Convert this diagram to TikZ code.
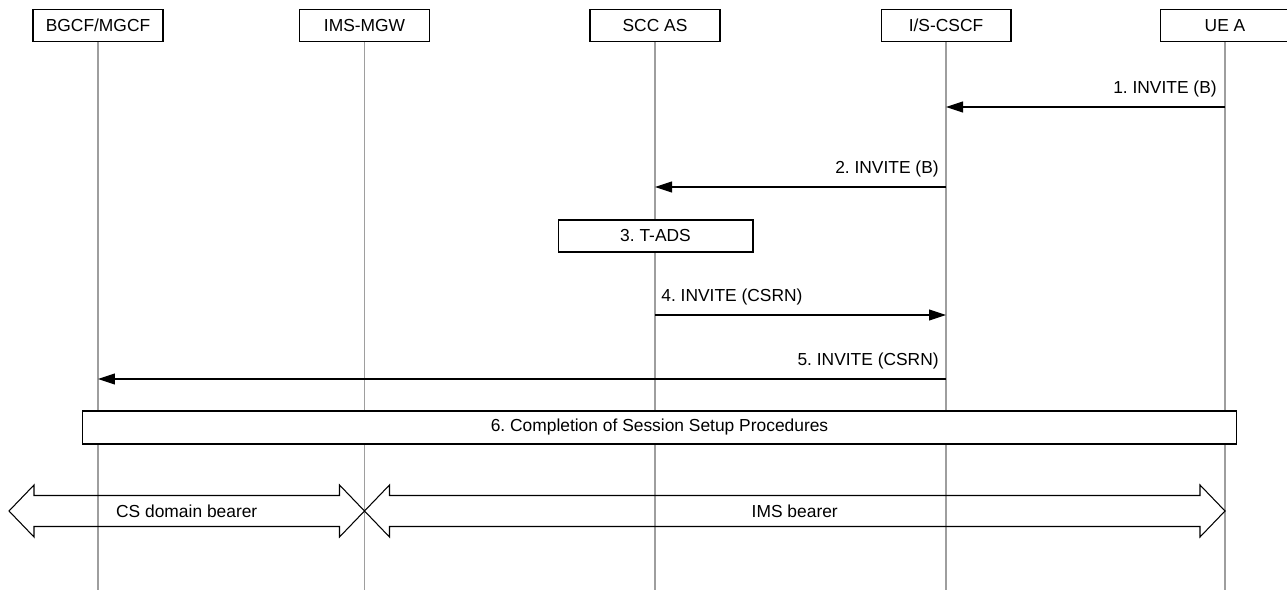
\documentclass[tikz,border=0pt]{standalone}
\usepackage{fontspec}
\setmainfont{Liberation Sans}
\usetikzlibrary{calc}
\usetikzlibrary{arrows.meta}
\frenchspacing

\begin{document}
\begin{tikzpicture}[x=0.02cm,y=-0.02cm,
  entity/.style={draw,fill=white,line width=0.6pt,minimum width=2.6cm,minimum height=0.64cm,inner sep=0pt,font=\fontsize{9.9}{12}\selectfont},
  actbox/.style={draw,fill=white,line width=0.6pt,minimum height=0.64cm,inner sep=0pt,font=\fontsize{9.9}{12}\selectfont},
  lifeline/.style={draw=black!38,line width=0.6pt},
  msg/.style={line width=0.6pt,-{Triangle[length=0.34cm,width=0.22cm]}},
  msglabel/.style={inner sep=0pt,font=\fontsize{9.9}{12}\selectfont},
  bearer/.style={line width=0.6pt,line join=miter}]

%\draw[help lines,step=50] (0,0) grid (1287,590);
\useasboundingbox (0,0) rectangle (1287,590);

% Set vertical positions of messages
\def\yone{107} %<- 1. INVITE
\def\ytwo{187} %<- 2. INVITE
\def\yfour{315} %<- 4. INVITE
\def\yfive{379} %<- 5. INVITE
\def\ybearer{511} %<- bearers

% Header boxes
\node[entity] (bgcf) at (98,25.5) {BGCF/MGCF};
\node[entity] (mgw) at (364.5,25.5) {IMS-MGW};
\node[entity] (sccas) at (655,25.5) {SCC AS};
\node[entity] (cscf) at (946,25.5) {I/S-CSCF};
\node[entity] (uea) at (1225,25.5) {UE A};

% Lifelines
\coordinate (bottom) at (0,590);
\draw[lifeline] (bgcf) -- (bgcf |- bottom);
\draw[lifeline] (mgw) -- (mgw |- bottom);
\draw[lifeline] (sccas) -- (sccas |- bottom);
\draw[lifeline] (cscf) -- (cscf |- bottom);
\draw[lifeline] (uea) -- (uea |- bottom);

% 1. INVITE (B)
\coordinate (m1) at (0,\yone);
\draw[msg] (uea |- m1) -- (cscf |- m1);
\node[msglabel,anchor=base east] (l1) at ($(uea |- m1)+(-8,-13)$) {1. INVITE (B)};

% 2. INVITE (B)
\coordinate (m2) at (0,\ytwo);
\draw[msg] (cscf |- m2) -- (sccas |- m2);
\node[msglabel,anchor=base east] (l2) at ($(cscf |- m2)+(-7,-13)$) {2. INVITE (B)};

% 3. T-ADS
\node[actbox,minimum width=3.9cm] (tads) at (655.5,236) {3. T-ADS};

% 4. INVITE (CSRN)
\coordinate (m4) at (0,\yfour);
\draw[msg] (sccas |- m4) -- (cscf |- m4);
\node[msglabel,anchor=base west] (l4) at ($(sccas |- m4)+(6,-13)$) {4. INVITE (CSRN)};

% 5. INVITE (CSRN)
\coordinate (m5) at (0,\yfive);
\draw[msg] (cscf |- m5) -- (bgcf |- m5);
\node[msglabel,anchor=base east] (l5) at ($(cscf |- m5)+(-7,-13)$) {5. INVITE (CSRN)};

% 6. Completion
\node[actbox,minimum width=23.1cm,minimum height=0.66cm] (setup) at (659.5,427.5) {6. Completion of Session Setup Procedures};

% Bearers
\coordinate (csL) at (9,\ybearer);
\coordinate (csR) at (mgw |- csL);
\coordinate (imsR) at (uea |- csL);
\draw[bearer] (csL) -- ++(25,-26) -- ++(0,10.5) -- ($(csR)+(-25,-15.5)$) -- ++(0,-10.5) -- (csR)
  -- ++(-25,26) -- ++(0,-10.5) -- ($(csL)+(25,15.5)$) -- ++(0,10.5) -- cycle;
\node[msglabel] (cslabel) at ($(csL)!0.5!(csR)$) {CS domain bearer};
\draw[bearer] (csR) -- ++(25,-26) -- ++(0,10.5) -- ($(imsR)+(-25,-15.5)$) -- ++(0,-10.5) -- (imsR)
  -- ++(-25,26) -- ++(0,-10.5) -- ($(csR)+(25,15.5)$) -- ++(0,10.5) -- cycle;
\node[msglabel] (imslabel) at ($(csR)!0.5!(imsR)$) {IMS bearer};

\end{tikzpicture}
\end{document}
